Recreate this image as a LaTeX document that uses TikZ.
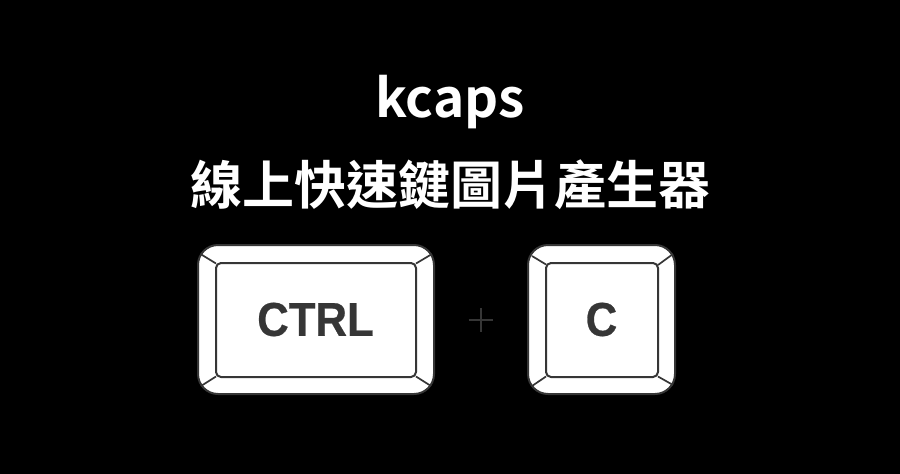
\documentclass[tikz,border=0pt]{standalone}
\usepackage{fontspec}
\setmainfont{Liberation Sans}[BoldFeatures={FakeBold=0.6}]
\newfontfamily\cjkfont{Noto Sans CJK TC}[BoldFont={* Bold}]
\tikzset{x=1pt,y=-1pt,
 keyline/.style={draw=keyink,line width=2pt},
 keytext/.style={text=keyink,font=\fontsize{47.5}{47.5}\selectfont\bfseries,xscale=.92,inner sep=0pt,anchor=center},
 titletext/.style={text=white,inner sep=0pt,anchor=base}}
\definecolor{keyink}{HTML}{363636}
\definecolor{plusink}{HTML}{363636}
\begin{document}
\begin{tikzpicture}
\useasboundingbox (0,0) rectangle (900,474);
\fill[black] (0,0) rectangle (900,474);
\node[titletext,font=\cjkfont\bfseries\fontsize{53}{53}\selectfont] (title) at (450,117) {kcaps};
\node[titletext,font=\cjkfont\bfseries\fontsize{52}{52}\selectfont] (subtitle) at (450,204) {線上快速鍵圖片產生器};
% CTRL key
\draw[keyline,fill=white,rounded corners=20pt] (198,245) rectangle (434,394);
\draw[keyline,line width=1.7pt] (200.5,254) -- (216,263.5) (432,254) -- (416,263.5) (201,386) -- (216,376.5) (431,386) -- (416,376.5);
\draw[keyline,fill=white,rounded corners=5pt] (216,263) rectangle (416,377);
\node[keytext] (ctrl) at (315.5,319.5) {CTRL};
% plus
\coordinate (pl) at (468.5,320); \coordinate (pr) at (493,320);
\coordinate (pt) at (480.7,308); \coordinate (pb) at (480.7,332);
\draw[plusink,line width=1.7pt] (pl) -- (pr) (pt) -- (pb);
% C key
\draw[keyline,fill=white,rounded corners=20pt] (528,245) rectangle (675,394);
\draw[keyline,line width=1.7pt] (532,256) -- (546,264.5) (673,254) -- (658,265) (532,386) -- (546,376.5) (673,385) -- (658,376.5);
\draw[keyline,fill=white,rounded corners=5pt] (546,263) rectangle (658,377);
\node[keytext] (ckey) at (601.5,319.5) {C};
\end{tikzpicture}
\end{document}
